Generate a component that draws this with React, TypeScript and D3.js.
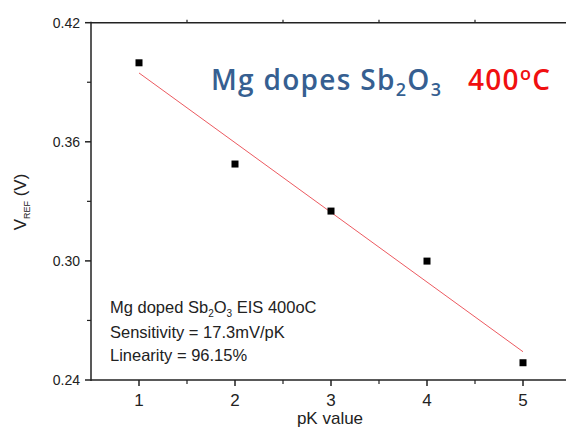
import React from "react";
import * as d3 from "d3";

const pkValues = [1, 2, 3, 4, 5];
const vrefValues = [0.3998, 0.3488, 0.3251, 0.2999, 0.2487];
const xTicks = [1, 2, 3, 4, 5];
const xMinorTicks = [1.5, 2.5, 3.5, 4.5];
const yTicks = [0.24, 0.3, 0.36, 0.42];
const yMinorTicks = [0.27, 0.33, 0.39];

const W = 566;
const H = 427;
const L = 91;
const T = 22.7;
const B = 380;

export default function App() {
  const x = d3.scaleLinear().domain([0.5, 5.5]).range([L, 571]);
  const y = d3.scaleLinear().domain([0.24, 0.42]).range([B, T]);

  // least-squares fit
  const mx = d3.mean(pkValues) as number;
  const my = d3.mean(vrefValues) as number;
  const sxy = d3.sum(pkValues.map((v, i) => (v - mx) * (vrefValues[i] - my)));
  const sxx = d3.sum(pkValues.map((v) => (v - mx) ** 2));
  const slope = sxy / sxx;
  const icpt = my - slope * mx;
  const fitX = [pkValues[0], pkValues[pkValues.length - 1]];
  const line = d3
    .line<number>()
    .x((d) => x(d))
    .y((d) => y(icpt + slope * d));

  const font = "Liberation Sans, Arial, sans-serif";
  const titleFont = "Open Sans, Lato, sans-serif";

  return (
    <svg
      width={W}
      height={H}
      style={{ position: "absolute", left: 0, top: 0, background: "#fff" }}
      fontFamily={font}
    >
      <rect x={0} y={0} width={W} height={H} fill="#fff" />
      {/* axes frame */}
      <line x1={L} x2={W} y1={T} y2={T} stroke="#222" strokeWidth={1.5} />
      <line x1={L} x2={W} y1={B} y2={B} stroke="#222" strokeWidth={1.5} />
      <line x1={L} x2={L} y1={T - 1} y2={B + 1} stroke="#222" strokeWidth={1.5} />

      {/* bottom ticks */}
      {xTicks.map((t) => (
        <g key={"xt" + t}>
          <line x1={x(t)} x2={x(t)} y1={B} y2={B + 6} stroke="#222" strokeWidth={1.5} />
          <text x={x(t)} y={406} textAnchor="middle" fontSize={17} fill="#222">
            {t}
          </text>
        </g>
      ))}
      {xMinorTicks.map((t) => (
        <g key={"xm" + t}>
          <line x1={x(t)} x2={x(t)} y1={B} y2={B + 4} stroke="#222" strokeWidth={1.2} />
          <line x1={x(t)} x2={x(t)} y1={T} y2={T - 3} stroke="#222" strokeWidth={1.2} />
        </g>
      ))}
      {/* left ticks */}
      {yTicks.map((t) => (
        <g key={"yt" + t}>
          <line x1={L} x2={L - 6} y1={y(t)} y2={y(t)} stroke="#222" strokeWidth={1.5} />
          <text x={80} y={y(t) + 5} textAnchor="end" fontSize={14} fill="#222">
            {t.toFixed(2)}
          </text>
        </g>
      ))}
      {yMinorTicks.map((t) => (
        <line key={"ym" + t} x1={L} x2={L - 4} y1={y(t)} y2={y(t)} stroke="#222" strokeWidth={1.2} />
      ))}

      {/* axis titles */}
      <text x={330} y={424} textAnchor="middle" fontSize={17} fill="#222">
        pK value
      </text>
      <text transform="translate(26,202) rotate(-90)" textAnchor="middle" fontSize={17} fill="#222">
        V<tspan fontSize={9} dy={4}>REF</tspan>
        <tspan dy={-4}> (V)</tspan>
      </text>

      {/* fit line */}
      <path d={line(fitX) as string} fill="none" stroke="#ec5a60" strokeWidth={1} />

      {/* points */}
      {pkValues.map((v, i) => (
        <rect key={"p" + i} x={x(v) - 3.5} y={y(vrefValues[i]) - 3.5} width={7} height={7} fill="#000" />
      ))}

      {/* title */}
      <text x={211} y={90} fontFamily={titleFont} fontWeight={600} fontSize={28} letterSpacing={1.3} fill="#365F91">
        Mg dopes Sb<tspan fontSize={18} dy={6}>2</tspan>
        <tspan dy={-6}>O</tspan>
        <tspan fontSize={18} dy={6}>3</tspan>
      </text>
      <text x={468} y={90} fontFamily={titleFont} fontWeight={600} fontSize={28} letterSpacing={1.3} fill="#F01010">
        400<tspan fontSize={18} dy={-10}>o</tspan>
        <tspan dy={10}>C</tspan>
      </text>

      {/* annotation */}
      <g fontSize={16.5} fill="#222">
        <text x={110} y={313}>
          Mg doped Sb<tspan fontSize={10} dy={4}>2</tspan>
          <tspan dy={-4}>O</tspan>
          <tspan fontSize={10} dy={4}>3</tspan>
          <tspan dy={-4}> EIS 400oC</tspan>
        </text>
        <text x={110} y={338}>Sensitivity = 17.3mV/pK</text>
        <text x={110} y={361}>Linearity = 96.15%</text>
      </g>
    </svg>
  );
}
